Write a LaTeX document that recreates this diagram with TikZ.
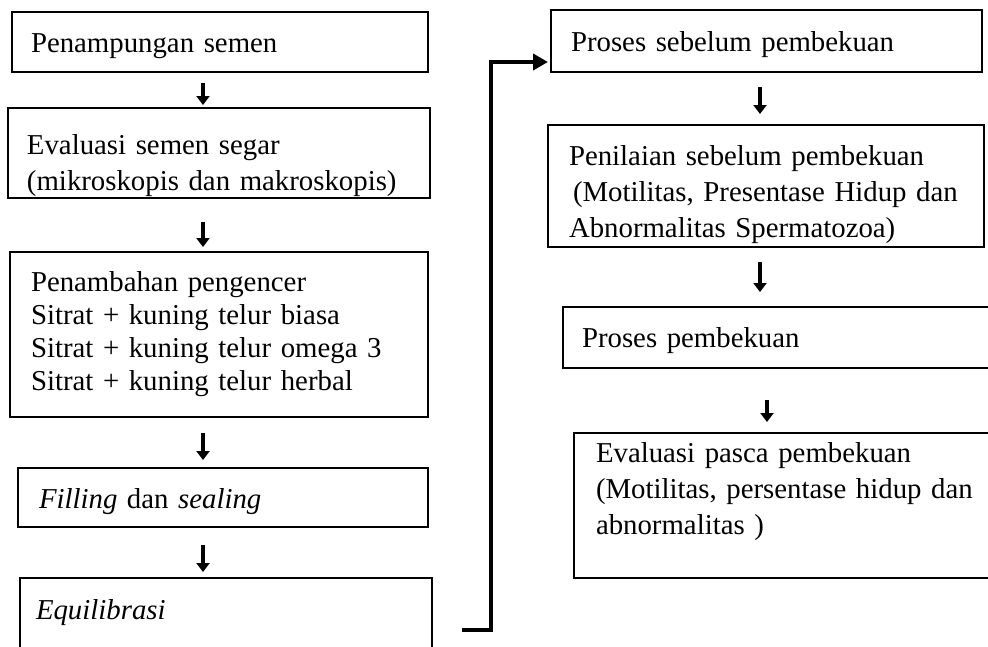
\documentclass[tikz,border=0pt]{standalone}
\usepackage{fontspec}
\setmainfont{Liberation Serif}
\usetikzlibrary{fit,arrows.meta}
\tikzset{
  box/.style={draw=black, line width=2.2pt, inner sep=0pt, outer sep=0pt},
  txt/.style={inner sep=0pt, outer sep=0pt, anchor=base west, align=left, text width=420pt,
    font=\fontsize{28.8}{36}\selectfont},
  txttight/.style={txt, font=\fontsize{28.8}{33}\selectfont},
  arr/.style={line width=4.5pt, -{Triangle[width=13pt,length=9pt]}},
  conn/.style={line width=4.2pt, -{Triangle[width=16pt,length=15pt]}}
}
\begin{document}
\begin{tikzpicture}[x=1pt,y=-1pt]
\useasboundingbox (0,0) rectangle (988,646);
\clip (0,0) rectangle (988,646);
\fill[white] (0,0) rectangle (988,646);
% left column
\node[box, fit={(12,12) (428,72)}] (b1) {};
\node[box, fit={(8,108) (430,198)}] (b2) {};
\node[box, fit={(10,252) (428,417)}] (b3) {};
\node[box, fit={(18,468) (428,527)}] (b4) {};
\node[box, fit={(20,578) (432,680)}] (b5) {};
% right column
\node[box, fit={(551,10) (982,72)}] (r1) {};
\node[box, fit={(548,125) (984,247)}] (r2) {};
\node[box, fit={(563,307) (1000,368)}] (r3) {};
\node[box, fit={(574,433) (1000,578)}] (r4) {};
% texts
\node[txt] (t1) at (31,52) {Penampungan semen};
\node[txt] (t2) at (27,154) {Evaluasi semen segar\\(mikroskopis dan makroskopis)};
\node[txttight] (t3) at (31,291) {Penambahan pengencer\\Sitrat + kuning telur biasa\\Sitrat + kuning telur omega 3\\Sitrat + kuning telur herbal};
\node[txt] (t4) at (39,508) {\textit{Filling} dan \textit{sealing}};
\node[txt] (t5) at (36,619) {\textit{Equilibrasi}};
\node[txt] (u1) at (571,51) {Proses sebelum pembekuan};
\node[txt] (u2) at (569,165) {Penilaian sebelum pembekuan\\\hspace*{4pt}(Motilitas, Presentase Hidup dan\\Abnormalitas Spermatozoa)};
\node[txt] (u3) at (582,347) {Proses pembekuan};
\node[txt] (u4) at (596,462) {Evaluasi pasca pembekuan\\(Motilitas, persentase hidup dan\\abnormalitas )};
% arrow columns
\coordinate (ax) at (203,0);
\coordinate (rx) at (760,0);
\coordinate (rx2) at (767,0);
\draw[arr, shorten <=11pt, shorten >=3pt] (b1.south -| ax) -- (b2.north -| ax);
\draw[arr, shorten <=24pt, shorten >=5pt] (b2.south -| ax) -- (b3.north -| ax);
\draw[arr, shorten <=16pt, shorten >=8pt] (b3.south -| ax) -- (b4.north -| ax);
\draw[arr, shorten <=18pt, shorten >=6pt] (b4.south -| ax) -- (b5.north -| ax);
\draw[arr, shorten <=15pt, shorten >=11pt] (r1.south -| rx) -- (r2.north -| rx);
\draw[arr, shorten <=15pt, shorten >=15pt] (r2.south -| rx) -- (r3.north -| rx);
\draw[arr, shorten <=32pt, shorten >=11pt] (r3.south -| rx2) -- (r4.north -| rx2);
% connector
\coordinate (cstart) at (462,630);
\coordinate (bend) at (491,62);
\draw[conn, shorten >=3pt] (cstart) -| (bend) -- (r1.west |- bend);
\end{tikzpicture}
\end{document}
